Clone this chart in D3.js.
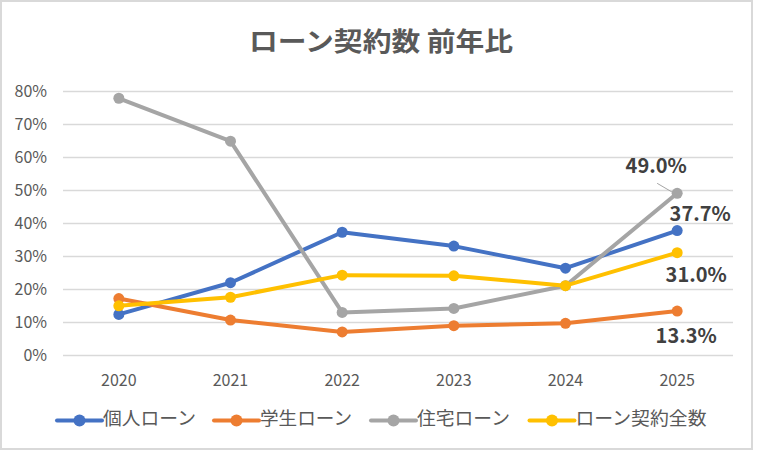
<!DOCTYPE html>
<html><head><meta charset="utf-8">
<script src="https://cdn.jsdelivr.net/npm/d3@7"></script>
<style>body{margin:0;background:#fff;}svg{display:block;}text{font-family:"Noto Sans CJK JP","Noto Sans",sans-serif;}</style>
</head><body><svg id="c" width="758" height="452"></svg>
<script>
const years = ["2020","2021","2022","2023","2024","2025"];
const seriesNames = ["個人ローン","学生ローン","住宅ローン","ローン契約全数"];
const colors = ["#4472C4","#ED7D31","#A5A5A5","#FFC000"];
const kojin = [12.3,21.9,37.2,33.0,26.3,37.7];
const gakusei = [17.1,10.6,7.0,8.9,9.6,13.3];
const jutaku = [77.8,64.8,12.9,14.1,21.0,49.0];
const zensu = [14.9,17.5,24.2,24.0,21.0,31.0];
const yTicks = [0,10,20,30,40,50,60,70,80];
const title = "ローン契約数 前年比";

const svg = d3.select("#c");
svg.append("rect").attr("x",1).attr("y",1).attr("width",751).attr("height",448)
  .attr("fill","#fff").attr("stroke","#d9d9d9").attr("stroke-width",2);

const x = d3.scaleBand().domain(years).range([63,733]);
const y = d3.scaleLinear().domain([0,80]).range([355,91]);

svg.append("text").attr("x",249).attr("y",51)
  .attr("font-size",26).attr("font-weight","bold").attr("fill","#595959")
  .attr("textLength",264).attr("lengthAdjust","spacingAndGlyphs").text(title);

// grid
const gy = svg.append("g").attr("transform","translate(63,0)")
  .call(d3.axisLeft(y).tickValues(yTicks).tickSize(-670).tickFormat(d=>d+"%"));
gy.select(".domain").remove();
gy.selectAll(".tick line").attr("stroke","#d9d9d9").attr("stroke-width",1.3);
gy.selectAll(".tick text").attr("x",-16).attr("font-size",16).attr("fill","#595959")
  .attr("font-family","Noto Sans, sans-serif");

const gx = svg.append("g").attr("transform","translate(0,355)")
  .call(d3.axisBottom(x).tickSize(0));
gx.select(".domain").remove();
gx.selectAll(".tick text").attr("dy",0).attr("y",31).attr("font-size",16).attr("fill","#595959")
  .attr("font-family","Noto Sans, sans-serif");

const data = [kojin,gakusei,jutaku,zensu];
const cx = d => x(d)+x.bandwidth()/2;
const line = d3.line().x((d,i)=>cx(years[i])).y(d=>y(d));
data.forEach((s,k)=>{
  svg.append("path").datum(s).attr("d",line).attr("fill","none")
    .attr("stroke",colors[k]).attr("stroke-width",4).attr("stroke-linejoin","round");
  svg.selectAll(null).data(s).enter().append("circle")
    .attr("cx",(d,i)=>cx(years[i])).attr("cy",d=>y(d)).attr("r",5.5).attr("fill",colors[k]);
});

// labels for last point (center offsets)
const last = years.length-1;
const lx = cx(years[last]);
const offs = [[23,-17],[9,25],[-21,-27],[19,22]];
data.forEach((s,k)=>{
  const v = s[last];
  svg.append("text").attr("x",lx+offs[k][0]).attr("y",y(v)+offs[k][1]+7)
    .attr("text-anchor","middle").attr("font-size",20).attr("font-weight","bold")
    .attr("fill","#404040").attr("font-family","Noto Sans, sans-serif").text(v.toFixed(1)+"%");
});
// leader line for jutaku
svg.append("line").attr("x1",lx-20).attr("y1",y(jutaku[last])-10).attr("x2",lx-3).attr("y2",y(jutaku[last]))
  .attr("stroke","#a5a5a5").attr("stroke-width",1);

// legend
const legX = [57,214,371,529.5];
const legW = [93,92,93,131];
seriesNames.forEach((n,k)=>{
  const g = svg.append("g").attr("transform",`translate(${legX[k]},420.5)`);
  g.append("line").attr("x1",0).attr("x2",45).attr("stroke",colors[k]).attr("stroke-width",4).attr("stroke-linecap","round");
  g.append("circle").attr("cx",22.5).attr("r",6).attr("fill",colors[k]);
  g.append("text").attr("x",46).attr("y",4.5).attr("font-size",18.5).attr("fill","#595959")
    .attr("textLength",legW[k]).attr("lengthAdjust","spacingAndGlyphs").text(n);
});
</script></body></html>
